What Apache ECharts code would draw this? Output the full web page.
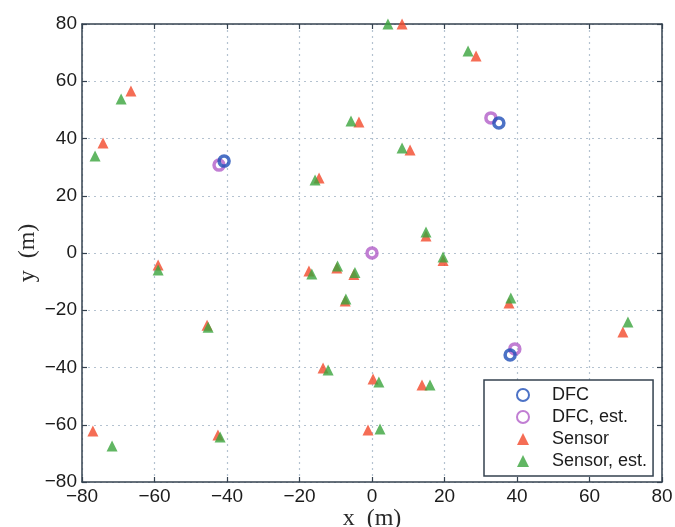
<!DOCTYPE html>
<html lang="en">
<head>
<meta charset="UTF-8">
<title>DFC / sensor positions</title>
<script src="https://cdn.jsdelivr.net/npm/echarts@6/dist/echarts.min.js"></script>
<style>
body{margin:0;background:#fff}
#main{width:675px;height:527px}
</style>
</head>
<body>
<div id="main"></div>
<script type="text/javascript">
// positions (m)
var dfcX = [-40.8, 35.0, 38.1];
var dfcY = [32.1, 45.4, -35.6];
var dfcEstX = [-42.2, 32.8, 39.4, 0.0];
var dfcEstY = [30.7, 47.2, -33.5, 0.0];
var sensorX = [8.3, 28.7, -66.5, -74.2, -3.6, 10.5, -14.6, 14.9, 19.6, -59.0, -17.4, -9.7, -5.0, -7.4, 37.8, 69.2, -45.5, -13.5, 0.3, 13.8, -1.1, -42.5, -77.0];
var sensorY = [80.0, 68.8, 56.6, 38.4, 45.8, 36.0, 26.2, 5.9, -2.6, -4.2, -6.3, -5.2, -7.5, -16.8, -17.5, -27.6, -25.2, -40.2, -44.0, -46.1, -61.8, -63.6, -62.2];
var sensorEstX = [4.4, 26.5, -69.2, -76.4, -5.8, 8.3, -15.7, 14.9, 19.6, -59.0, -16.6, -9.5, -4.7, -7.2, 38.3, 70.6, -45.2, -12.1, 1.9, 16.0, 2.2, -41.9, -71.7];
var sensorEstY = [80.0, 70.6, 53.8, 33.9, 46.1, 36.7, 25.5, 7.3, -1.4, -5.9, -7.3, -4.5, -6.8, -16.1, -15.7, -24.1, -25.9, -40.9, -45.1, -46.1, -61.5, -64.3, -67.4];
var ticks = [-80, -60, -40, -20, 0, 20, 40, 60, 80];

function pairs(xs, ys) {
    var out = [];
    for (var i = 0; i < xs.length; i++) {
        out.push([xs[i], ys[i]]);
    }
    return out;
}

var frame = '#34424f';
var gridLine = {show: true, lineStyle: {color: '#b4c2d0', type: [2, 4], width: 1.2}};

function axis(pos, main) {
    return {
        type: 'value',
        position: pos,
        min: ticks[0],
        max: ticks[ticks.length - 1],
        interval: 20,
        axisLine: {show: true, onZero: false, lineStyle: {color: frame, width: 1.5}},
        axisTick: {show: true, inside: true, length: 5, lineStyle: {color: frame, width: 1.2}},
        axisLabel: {
            show: main, color: '#1c1c1c', fontSize: 19, fontFamily: 'Liberation Sans', margin: 5,
            formatter: function (v) { return String(v).replace('-', '\u2212'); }
        },
        splitLine: main ? gridLine : {show: false}
    };
}

var xMain = axis('bottom', true);
xMain.name = 'x  (m)';
xMain.nameLocation = 'middle';
xMain.nameGap = 25;
xMain.nameMoveOverlap = false;
xMain.nameTextStyle = {fontFamily: 'Liberation Serif', fontSize: 24, color: '#2a2a2a'};

var yMain = axis('left', true);
yMain.name = 'y  (m)';
yMain.nameLocation = 'middle';
yMain.nameGap = 42;
yMain.nameMoveOverlap = false;
yMain.nameTextStyle = {fontFamily: 'Liberation Serif', fontSize: 24, color: '#2a2a2a'};

var legendNames = ['DFC', 'DFC, est.', 'Sensor', 'Sensor, est.'];

var myChart = echarts.init(document.getElementById('main'));
myChart.setOption({
    animation: false,
    backgroundColor: '#fff',
    grid: {left: 82, right: 13, top: 24, bottom: 45, outerBoundsMode: 'none', containLabel: false},
    xAxis: [xMain, axis('top', false)],
    yAxis: [yMain, axis('right', false)],
    legend: {
        orient: 'vertical',
        left: 484,
        top: 380,
        padding: [6, 6, 6, 32],
        itemGap: 4,
        itemWidth: 12,
        itemHeight: 12,
        borderColor: frame,
        borderWidth: 1.5,
        backgroundColor: '#fff',
        textStyle: {fontSize: 18, fontFamily: 'Liberation Sans', color: '#1c1c1c', padding: [0, 0, 0, 18]},
        data: legendNames
    },
    series: [
        {
            name: legendNames[0], type: 'scatter', z: 4,
            symbol: 'circle', symbolSize: 10,
            itemStyle: {color: 'rgba(0,0,0,0)', borderColor: '#1f4fb8', borderWidth: 3.5},
            data: pairs(dfcX, dfcY)
        },
        {
            name: legendNames[1], type: 'scatter', z: 3,
            symbol: 'circle', symbolSize: 10,
            itemStyle: {color: 'rgba(0,0,0,0)', borderColor: '#b25ec8', borderWidth: 3.5},
            data: pairs(dfcEstX, dfcEstY)
        },
        {
            name: legendNames[2], type: 'scatter', z: 2,
            symbol: 'triangle', symbolSize: 11,
            itemStyle: {color: '#f2482a'},
            data: pairs(sensorX, sensorY)
        },
        {
            name: legendNames[3], type: 'scatter', z: 2,
            symbol: 'triangle', symbolSize: 11,
            itemStyle: {color: '#3aa43c'},
            data: pairs(sensorEstX, sensorEstY)
        }
    ]
});
</script>
</body>
</html>
